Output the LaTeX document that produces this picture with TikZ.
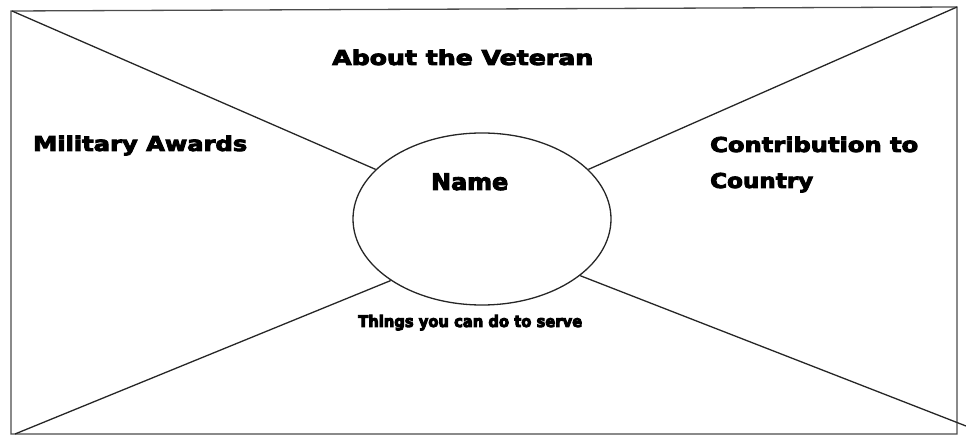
\documentclass[tikz,border=0pt]{standalone}
\usepackage{fontspec}
\usepackage{graphicx}
\usetikzlibrary{shapes.geometric}
\newfontfamily\lblfont{DejaVu Sans}[BoldFeatures={FakeBold=4}]
\newfontfamily\heavyfont{DejaVu Sans}[BoldFeatures={FakeBold=6}]
\newcommand\fitw[2]{\resizebox{#1bp}{\height}{#2}}
\tikzset{
  lbl/.style={anchor=base west, inner sep=0pt, font=\lblfont\bfseries},
  ln/.style={line width=1.3bp, draw=black!85},
}
\begin{document}
\begin{tikzpicture}[x=1bp,y=-1bp]
\useasboundingbox (0,0) rectangle (966,436);
\coordinate (tl) at (12,11);
\coordinate (tr) at (957,7);
\coordinate (bl) at (15,434);
\coordinate (br) at (966,426);
\coordinate (fbr) at (957,434);
\coordinate (fbl) at (11,434);
\coordinate (ftl) at (11,11);
\draw[ln, draw=black!70] (ftl) -- (tr) -- (fbr) -- (fbl) -- cycle;
\node[ellipse, draw=black!85, line width=1.3bp, minimum width=258bp, minimum height=172bp, inner sep=0pt] (e) at (482,219) {};
\draw[ln] (tl) -- (e.155);
\draw[ln] (tr) -- (e.25);
\draw[ln] (bl) -- (e.214);
\draw[ln] (br) -- (e.330);
\node[lbl, font=\lblfont\bfseries\fontsize{20.5}{24}\selectfont] (about) at (332,65) {\fitw{261}{About the Veteran}};
\node[lbl, font=\lblfont\bfseries\fontsize{20.5}{24}\selectfont] (mil) at (33,151) {\fitw{214}{Military Awards}};
\node[lbl, font=\lblfont\bfseries\fontsize{20.5}{24}\selectfont] (contr) at (710,152) {\fitw{208}{Contribution to}};
\node[lbl, font=\lblfont\bfseries\fontsize{20.5}{24}\selectfont] (ctry) at (710,188) {\fitw{103}{Country}};
\node[lbl, font=\lblfont\bfseries\fontsize{23}{26}\selectfont] (name) at (431,190) {\fitw{77}{Name}};
\node[lbl, font=\heavyfont\bfseries\fontsize{16}{19}\selectfont] (serve) at (358,327) {\fitw{224}{Things you can do to serve}};
\end{tikzpicture}
\end{document}
